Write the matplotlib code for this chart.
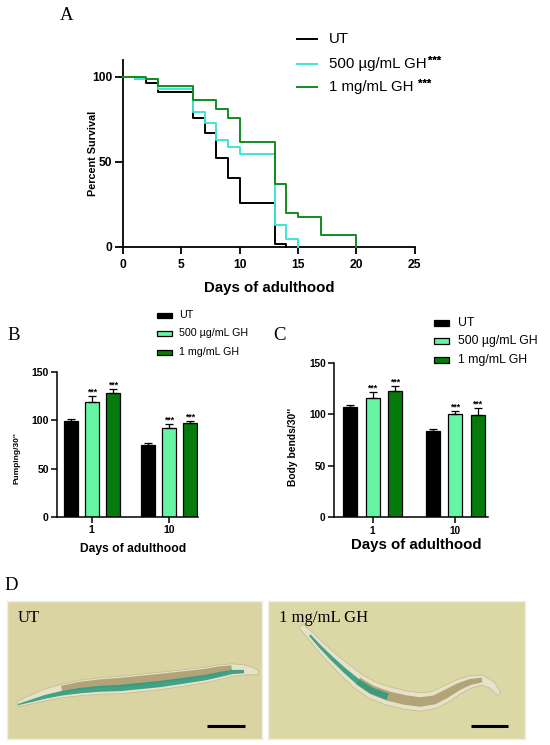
import numpy as np
import matplotlib
matplotlib.use("Agg")
import matplotlib.pyplot as plt
from matplotlib.patches import Rectangle, Polygon
from matplotlib.lines import Line2D

plt.rcParams['font.family'] = ['Liberation Sans', 'DejaVu Sans']
SERIF = ['Liberation Serif', 'DejaVu Serif']

# ---------------- data ----------------
# Panel A: survival curves (Kaplan-Meier steps)
ut_days = [0, 1, 2, 3, 6, 7, 8, 9, 10, 13, 14]
ut_surv = [100, 98.6, 96.5, 91, 76, 67, 52, 40.6, 25.9, 1.4, 0]
gh500_days = [0, 1, 3, 6, 7, 8, 9, 10, 13, 14, 15]
gh500_surv = [100, 98.8, 92.6, 79.4, 72.5, 62.7, 58.4, 54.3, 12.7, 4.3, 0]
gh1_days = [0, 2, 3, 6, 8, 9, 10, 13, 14, 15, 17, 20]
gh1_surv = [100, 98.6, 94.7, 86.3, 80.8, 75.5, 61.4, 36.7, 19.6, 17.3, 6.9, 0]
surv_labels = ["UT", "500 \u00b5g/mL GH", "1 mg/mL GH"]
surv_sig = ["", "***", " ***"]
surv_colors = ["#000000", "#3ee6d2", "#148a1e"]

# Panels B & C: bars
groups = ["1", "10"]
bar_labels = ["UT", "500 \u00b5g/mL GH", "1 mg/mL GH"]
bar_colors = ["#000000", "#66f5a3", "#067a0a"]
pump_ut = [99, 74.4]
pump_500 = [119.5, 91.8]
pump_1 = [128.8, 97.6]
pump_ut_err = [2.5, 2.2]
pump_500_err = [6, 5]
pump_1_err = [3.5, 2]
bends_ut = [107.5, 83.8]
bends_500 = [115.5, 100]
bends_1 = [122.5, 99.3]
bends_ut_err = [1.8, 1.8]
bends_500_err = [5.8, 3.2]
bends_1_err = [5, 6.5]
sig_marks = ["", "***", "***"]

# Panel D: micrograph sketch (worm centre lines in figure pixels)
img_labels = ["UT", "1 mg/mL GH"]
worm1_x = [18, 30, 45, 62, 80, 100, 120, 140, 160, 183, 205, 220, 232, 244, 252, 258]
worm1_y = [704, 700, 695, 691, 688, 686, 685, 683, 681, 678, 675, 672, 670, 670, 671, 673]
worm2_x = [301, 310, 320, 332, 345, 358, 372, 388, 405, 420, 434, 446, 458, 470, 482, 492, 499]
worm2_y = [626, 635, 646, 658, 670, 681, 690, 696, 700, 702, 700, 694, 687, 682, 680, 685, 694]

# ---------------- figure ----------------
W, H = 550, 745
fig = plt.figure(figsize=(W / 100, H / 100), dpi=100)


def px_axes(l, t, r, b):
    return fig.add_axes([l / W, 1 - b / H, (r - l) / W, (b - t) / H])


def fxy(x, y):
    return x / W, 1 - y / H


def style_axes(ax, lw=1.3):
    for s in ["top", "right"]:
        ax.spines[s].set_visible(False)
    for s in ["left", "bottom"]:
        ax.spines[s].set_linewidth(lw)


# ---------- Panel A ----------
axA = px_axes(123, 59.7, 414.5, 246.7)
style_axes(axA)
order = [1, 2, 0]
series = [(ut_days, ut_surv), (gh500_days, gh500_surv), (gh1_days, gh1_surv)]
for i in order:
    d, s = series[i]
    axA.step(d, s, where="post", color=surv_colors[i], lw=1.4, clip_on=False,
             zorder=3 + i)
axA.set_xlim(0, 25)
axA.set_ylim(0, 110)
axA.set_xticks([0, 5, 10, 15, 20, 25])
axA.set_yticks([0, 50, 100])
axA.tick_params(axis="x", length=5, width=1.3, pad=4, labelsize=8.7)
axA.tick_params(axis="y", length=6, width=1.3, pad=1.5, labelsize=8.7)
for t in axA.get_xticklabels() + axA.get_yticklabels():
    t.set_fontweight("bold")
axA.set_xlabel("Days of adulthood", fontsize=10.8, fontweight="bold", va="center")
axA.xaxis.set_label_coords(0.5, (246.7 - 288.3) / 187)
axA.set_ylabel("Percent Survival", fontsize=7.8, fontweight="bold", va="center")
axA.yaxis.set_label_coords((93.5 - 123) / 291.5, 0.5)

# legend A
rows_A = [39, 64, 87.3]
for i, y in enumerate(rows_A):
    x0, y0 = fxy(296.7, y)
    x1, _ = fxy(316.7, y)
    fig.add_artist(Line2D([x0, x1], [y0, y0], color=surv_colors[i], lw=1.4))
    tx, ty = fxy(329.3, y)
    t = fig.text(tx, ty, surv_labels[i], fontsize=10.8, va="center", ha="left")
    if surv_sig[i]:
        a = plt.annotate(surv_sig[i], xy=(1, 0.72), xycoords=t,
                         xytext=(0.8, 0), textcoords="offset points",
                         fontsize=8, fontweight="bold", va="center", ha="left")
        fig.add_artist(a)

fig.text(*fxy(67, 15), "A", family=SERIF, fontsize=13.5, ha="center", va="center")


# ---------- Bar panels ----------
def bar_panel(box, xlim, vals, errs, offs, width, ylab, ylab_pos, xlab_pos,
              xlab_size, ylab_size, tick_size):
    ax = px_axes(*box)
    style_axes(ax, lw=1.1)
    x = np.arange(len(groups))
    for k in range(3):
        xs = x + offs[k]
        ax.bar(xs, vals[k], width=width, color=bar_colors[k],
               edgecolor="black", linewidth=0.9, zorder=2)
        ax.errorbar(xs, vals[k], yerr=[np.zeros(len(groups)), errs[k]],
                    fmt="none", ecolor="black", elinewidth=0.9, capsize=2.8,
                    capthick=0.9, zorder=3)
        if sig_marks[k]:
            for xi, v, e in zip(xs, vals[k], errs[k]):
                ax.text(xi, v + e + 4.0, sig_marks[k], fontsize=6.3,
                        fontweight="bold", ha="center", va="center")
    ax.set_xlim(*xlim)
    ax.set_ylim(0, 150)
    ax.set_yticks([0, 50, 100, 150])
    ax.set_xticks(x)
    ax.set_xticklabels(groups)
    ax.tick_params(axis="both", length=4.5, width=1.1, pad=1.5, labelsize=tick_size)
    for t in ax.get_xticklabels() + ax.get_yticklabels():
        t.set_fontweight("bold")
    l, t_, r, b = box
    ax.set_ylabel(ylab, fontsize=ylab_size, fontweight="bold", va="center")
    ax.yaxis.set_label_coords((ylab_pos[0] - l) / (r - l), (b - ylab_pos[1]) / (b - t_))
    ax.set_xlabel("Days of adulthood", fontsize=xlab_size, fontweight="bold", va="center")
    ax.xaxis.set_label_coords((xlab_pos[0] - l) / (r - l), (b - xlab_pos[1]) / (b - t_))
    return ax


# Panel B
axB = bar_panel((57.3, 372.3, 198.3, 516.7), (-0.445, 1.379),
                [pump_ut, pump_500, pump_1], [pump_ut_err, pump_500_err, pump_1_err],
                [-0.274, 0, 0.274], 0.181, "Pumping/30''", (16.7, 458),
                (133, 549.3), 8.7, 6.0, 7.6)

# Panel C
axC = bar_panel((334, 362.7, 488.3, 517.3), (-0.465, 1.398),
                [bends_ut, bends_500, bends_1], [bends_ut_err, bends_500_err, bends_1_err],
                [-0.268, 0, 0.268], 0.169, "Body bends/30''", (293.3, 447),
                (416, 545), 10.8, 7.4, 7.2)


def square_legend(x_sq, w_sq, h_sq, rows, x_txt, size):
    for i, y in enumerate(rows):
        x0, y0 = fxy(x_sq, y + h_sq / 2)
        fig.add_artist(Rectangle((x0, y0), w_sq / W, h_sq / H, transform=fig.transFigure,
                                 facecolor=bar_colors[i], edgecolor="black", lw=0.9))
        fig.text(*fxy(x_txt, y), bar_labels[i], fontsize=size, ha="left", va="center")


square_legend(156.5, 15, 5, [315, 333.3, 352.3], 179, 7.7)
square_legend(434, 14.5, 6, [322.7, 341, 360], 458.3, 8.8)

fig.text(*fxy(13.7, 335), "B", family=SERIF, fontsize=13.5, ha="center", va="center")
fig.text(*fxy(280, 335), "C", family=SERIF, fontsize=13.5, ha="center", va="center")
fig.text(*fxy(11.5, 585), "D", family=SERIF, fontsize=13.5, ha="center", va="center")


# ---------- Panel D ----------
def ribbon(xs, ys, hw, shift=0.0):
    xs = np.asarray(xs, float)
    ys = np.asarray(ys, float)
    hw = np.asarray(hw, float)
    dx = np.gradient(xs)
    dy = np.gradient(ys)
    n = np.hypot(dx, dy)
    nx, ny = -dy / n, dx / n
    cx, cy = xs + nx * shift, ys + ny * shift
    left = np.column_stack([cx + nx * hw, cy + ny * hw])
    right = np.column_stack([cx - nx * hw, cy - ny * hw])
    return np.vstack([left, right[::-1]])


def image_panel(l, r, t, b, bg, label, wx, wy, profile, teal_rng, teal_shift,
                brown_rng, brown_shift, bar_x):
    ax = fig.add_axes([l / W, 1 - b / H, (r - l) / W, (b - t) / H])
    ax.set_xlim(l, r)
    ax.set_ylim(b, t)
    ax.set_facecolor(bg)
    ax.set_xticks([])
    ax.set_yticks([])
    for s in ax.spines.values():
        s.set_color("#efeee0")
        s.set_linewidth(1.0)
    hw = np.array(profile, float)
    wx = np.array(wx, float)
    wy = np.array(wy, float)
    ax.add_patch(Polygon(ribbon(wx, wy, hw + 1.2), closed=True, facecolor="#e6e3c9",
                         edgecolor="#bdb890", lw=0.5, alpha=0.95))
    a, c = brown_rng
    ax.add_patch(Polygon(ribbon(wx[a:c], wy[a:c], hw[a:c] * 0.6, hw[a:c] * brown_shift),
                         closed=True, facecolor="#a99a6b", edgecolor="none", alpha=0.85))
    a, c = teal_rng
    ax.add_patch(Polygon(ribbon(wx[a:c], wy[a:c], hw[a:c] * 0.42, hw[a:c] * teal_shift),
                         closed=True, facecolor="#2f9b80", edgecolor="none", alpha=0.9))
    ax.text(l + 11, t + 17, label, family=SERIF, fontsize=12, ha="left", va="center")
    ax.plot(bar_x, [726, 726], color="black", lw=2.2, solid_capstyle="butt")
    return ax


prof1 = [1.5, 3, 4.5, 5.5, 6.5, 7, 7.5, 7.5, 7.5, 7, 6.5, 6, 5, 4, 2.5, 1]
image_panel(6.7, 261.7, 601, 738.5, "#dad4a3", img_labels[0], worm1_x, worm1_y,
            prof1, (0, 14), 0.4, (3, 13), -0.35, [207, 245])
prof2 = [1.5, 2.5, 3.5, 4.5, 5.5, 6.5, 7.5, 8, 8, 8, 7.5, 7, 6, 5, 4, 2.5, 1]
image_panel(268.3, 525, 601, 738.5, "#dcd8a6", img_labels[1], worm2_x, worm2_y,
            prof2, (1, 8), 0.1, (5, 15), 0.0, [471, 508])

fig.savefig("out.png", dpi=100)
